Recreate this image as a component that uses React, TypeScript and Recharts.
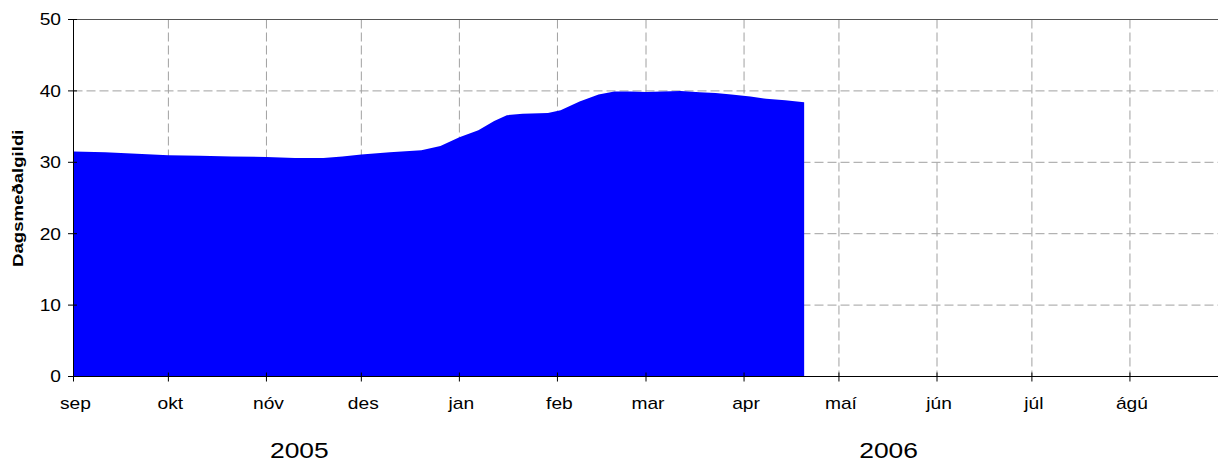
import { AreaChart, Area, XAxis, YAxis, CartesianGrid, ReferenceLine } from "recharts";

// days counted from 1 Sep 2005
const dayIndex = [
  0, 10, 20, 30, 40, 50, 61, 70, 79, 85, 91, 100, 110, 116, 122, 128, 133,
  137, 142, 150, 154, 160, 166, 171, 176, 181, 186, 192, 198, 203, 208, 214,
  219, 225, 231,
];
const dailyMean = [
  31.5, 31.4, 31.2, 31.0, 30.9, 30.8, 30.75, 30.6, 30.6, 30.8, 31.1, 31.4,
  31.7, 32.3, 33.5, 34.5, 35.8, 36.6, 36.8, 36.9, 37.3, 38.5, 39.5, 39.9, 39.9,
  39.85, 39.9, 40.0, 39.8, 39.7, 39.5, 39.2, 38.9, 38.7, 38.4,
];

const monthTickDays = [0, 30, 61, 91, 122, 153, 181, 212, 242, 273, 303, 334];
const monthLabels = ["sep", "okt", "nóv", "des", "jan", "feb", "mar", "apr", "maí", "jún", "júl", "ágú"];
const yearTickDays = [71.4, 257.7];
const yearLabels = ["2005", "2006"];
const valueTicks = [0, 10, 20, 30, 40, 50];

const chartData = dayIndex.map((day, i) => ({ day, value: dailyMean[i] }));

const FONT = "'Liberation Sans', Arial, sans-serif";
const STRETCH = 1.2;

function stretchAt(x: number) {
  return `translate(${x} 0) scale(${STRETCH} 1) translate(${-x} 0)`;
}

function MonthTick(props: any) {
  const { x, y, index } = props;
  const tx = x + 2;
  return (
    <g>
      <line x1={x} x2={x} y1={y - 4} y2={y + 5} stroke="#000" />
      <text x={tx} y={y + 33} textAnchor="middle" fontSize={16} fontFamily={FONT} fill="#000" transform={stretchAt(tx)}>
        {monthLabels[index]}
      </text>
    </g>
  );
}

function YearTick(props: any) {
  const { x, y, index } = props;
  return (
    <text x={x} y={y + 41.5} textAnchor="middle" fontSize={22} fontFamily={FONT} fill="#000" transform={stretchAt(x)}>
      {yearLabels[index]}
    </text>
  );
}

function ValueTick(props: any) {
  const { x, y, payload } = props;
  const tx = x - 12.5;
  return (
    <g>
      <line x1={x - 5.5} x2={x + 3.5} y1={y} y2={y} stroke="#000" />
      <text x={tx} y={y + 6} textAnchor="end" fontSize={16} fontFamily={FONT} fill="#000" transform={stretchAt(tx)}>
        {payload.value}
      </text>
    </g>
  );
}

function AxisTitle() {
  return (
    <text
      x={0}
      y={0}
      textAnchor="middle"
      fontSize={15.5}
      fontWeight="bold"
      fontFamily={FONT}
      fill="#000"
      transform={`translate(22.8 198.3) rotate(-90) scale(${STRETCH} 1)`}
    >
      Dagsmeðalgildi
    </text>
  );
}

export default function App() {
  return (
    <div
      style={{
        position: "absolute",
        left: 0,
        top: 0,
        width: 1218,
        height: 463,
        overflow: "hidden",
        background: "#fff",
      }}
    >
      <AreaChart
        width={1230}
        height={463}
        data={chartData}
        margin={{ top: 19.5, right: 2, left: 0, bottom: 0 }}
      >
        <CartesianGrid stroke="#a0a0a0" strokeDasharray="9 4" />
        <Area
          type="linear"
          dataKey="value"
          fill="#0000FF"
          fillOpacity={1}
          stroke="none"
          isAnimationActive={false}
        />
        <ReferenceLine y={50} stroke="#555" />
        <XAxis
          dataKey="day"
          type="number"
          domain={[0, 365]}
          ticks={monthTickDays}
          interval={0}
          height={40}
          allowDataOverflow
          axisLine={{ stroke: "#000" }}
          tickLine={false}
          tickSize={0}
          tickMargin={0}
          tick={MonthTick}
        />
        <XAxis
          xAxisId="year"
          dataKey="day"
          type="number"
          domain={[0, 365]}
          ticks={yearTickDays}
          interval={0}
          height={46.5}
          allowDataOverflow
          axisLine={false}
          tickLine={false}
          tickSize={0}
          tickMargin={0}
          tick={YearTick}
        />
        <YAxis
          type="number"
          domain={[0, 50]}
          ticks={valueTicks}
          interval={0}
          width={73.5}
          axisLine={{ stroke: "#000" }}
          tickLine={false}
          tickSize={0}
          tickMargin={0}
          tick={ValueTick}
          label={<AxisTitle />}
        />
      </AreaChart>
    </div>
  );
}
